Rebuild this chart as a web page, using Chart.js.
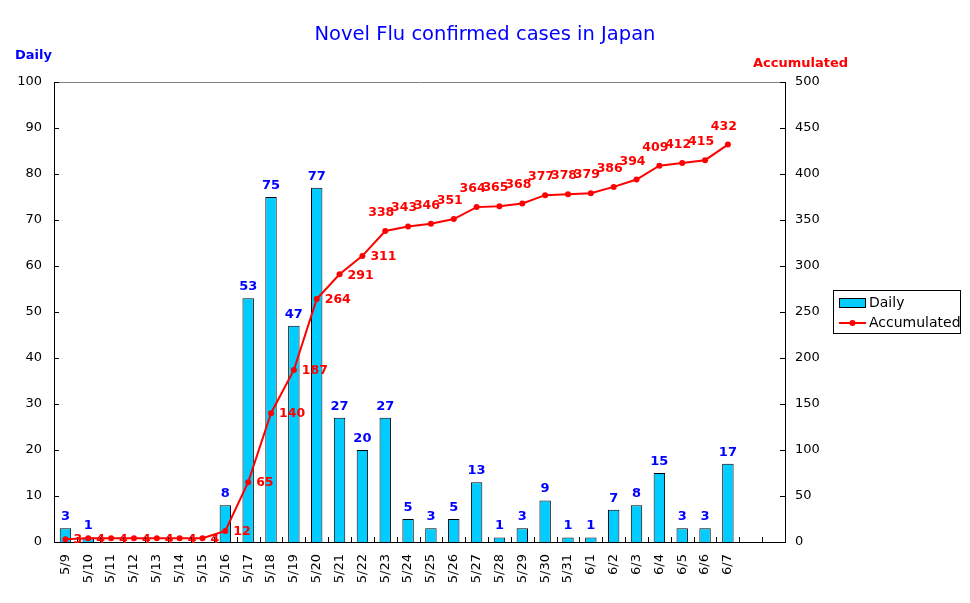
<!DOCTYPE html>
<html>
<head>
<meta charset="utf-8">
<script src="https://cdn.jsdelivr.net/npm/chart.js@4.4.1/dist/chart.umd.min.js"></script>
<style>
html,body{margin:0;padding:0;background:#fff;}
#wrap{width:970px;height:603px;position:relative;}
</style>
</head>
<body>
<div id="wrap"><canvas id="c" width="970" height="603"></canvas></div>
<script>
const categories = ['5/9','5/10','5/11','5/12','5/13','5/14','5/15','5/16','5/17','5/18','5/19','5/20','5/21','5/22','5/23','5/24','5/25','5/26','5/27','5/28','5/29','5/30','5/31','6/1','6/2','6/3','6/4','6/5','6/6','6/7','',''];
const dailyValues = [3,1,0,0,0,0,0,8,53,75,47,77,27,20,27,5,3,5,13,1,3,9,1,1,7,8,15,3,3,17];
const accumulatedValues = [3,4,4,4,4,4,4,12,65,140,187,264,291,311,338,343,346,351,364,365,368,377,378,379,386,394,409,412,415,432];
const leftTicks = [0,10,20,30,40,50,60,70,80,90,100];
const rightTicks = [0,50,100,150,200,250,300,350,400,450,500];
const rightLabelUntil = 13; // accumulated labels drawn right of point up to this index

const FONT = '"DejaVu Sans", sans-serif';

const decorPlugin = {
  id: 'decor',
  afterDatasetsDraw(chart) {
    const ctx = chart.ctx;
    const a = chart.chartArea;
    const x = chart.scales.x, yL = chart.scales.y, yR = chart.scales.y1;
    ctx.save();
    // top border grey
    ctx.strokeStyle = '#808080';
    ctx.lineWidth = 1;
    ctx.beginPath(); ctx.moveTo(a.left, a.top + 0.5); ctx.lineTo(a.right, a.top + 0.5); ctx.stroke();
    // inward ticks
    ctx.strokeStyle = '#000';
    ctx.beginPath();
    leftTicks.forEach(v => { const py = Math.round(yL.getPixelForValue(v)) + 0.5; ctx.moveTo(a.left, py); ctx.lineTo(a.left + 5, py); });
    rightTicks.forEach(v => { const py = Math.round(yR.getPixelForValue(v)) + 0.5; ctx.moveTo(a.right - 5, py); ctx.lineTo(a.right, py); });
    const n = categories.length;
    const slot = (a.right - a.left) / n;
    for (let i = 0; i <= n; i++) { const px = Math.round(a.left + i * slot) + 0.5; ctx.moveTo(px, a.bottom); ctx.lineTo(px, a.bottom - 5); }
    ctx.stroke();

    // daily labels
    ctx.font = 'bold 13px ' + FONT;
    ctx.fillStyle = '#0000FF';
    ctx.textAlign = 'center';
    ctx.textBaseline = 'bottom';
    const barMeta = chart.getDatasetMeta(0);
    barMeta.data.forEach((el, i) => {
      const v = dailyValues[i];
      if (v === undefined || v === 0) return;
      ctx.fillText(String(v), el.x, el.y - 5);
    });
    // accumulated labels
    ctx.font = 'bold 12.5px ' + FONT;
    ctx.fillStyle = '#FF0000';
    const lineMeta = chart.getDatasetMeta(1);
    lineMeta.data.forEach((el, i) => {
      const v = accumulatedValues[i];
      if (v === undefined) return;
      if (i <= rightLabelUntil) {
        ctx.textAlign = 'left'; ctx.textBaseline = 'middle';
        ctx.fillText(String(v), el.x + 8, el.y + 1);
      } else {
        ctx.textAlign = 'center'; ctx.textBaseline = 'bottom';
        ctx.fillText(String(v), el.x - 4, el.y - 12);
      }
    });

    // titles
    ctx.textBaseline = 'middle';
    ctx.textAlign = 'center';
    ctx.fillStyle = '#0000FF';
    ctx.font = '19.5px ' + FONT;
    ctx.fillText('Novel Flu confirmed cases in Japan', 485, 35);
    ctx.font = 'bold 13px ' + FONT;
    ctx.textAlign = 'left';
    ctx.fillText('Daily', 15, 56);
    ctx.fillStyle = '#FF0000';
    ctx.fillText('Accumulated', 753, 64);

    // legend
    ctx.strokeStyle = '#000';
    ctx.lineWidth = 1;
    ctx.strokeRect(833.5, 290.5, 127, 43);
    ctx.fillStyle = '#00CCFF';
    ctx.fillRect(839, 298, 26, 9);
    ctx.strokeRect(839.5, 298.5, 26, 9);
    ctx.strokeStyle = '#FF0000';
    ctx.lineWidth = 2;
    ctx.beginPath(); ctx.moveTo(839, 323); ctx.lineTo(866, 323); ctx.stroke();
    ctx.fillStyle = '#FF0000';
    ctx.beginPath(); ctx.arc(852.5, 323, 3, 0, Math.PI * 2); ctx.fill();
    ctx.fillStyle = '#000';
    ctx.font = '14px ' + FONT;
    ctx.textBaseline = 'middle';
    ctx.fillText('Daily', 869, 303);
    ctx.fillText('Accumulated', 869, 323);
    ctx.restore();
  }
};

new Chart(document.getElementById('c'), {
  type: 'bar',
  data: {
    labels: categories,
    datasets: [
      {
        type: 'bar', label: 'Daily', data: dailyValues, yAxisID: 'y', order: 2,
        backgroundColor: '#00CCFF', borderColor: '#000', borderWidth: 1,
        barPercentage: 0.5, categoryPercentage: 1.0
      },
      {
        type: 'line', label: 'Accumulated', data: accumulatedValues, yAxisID: 'y1', order: 1,
        borderColor: '#FF0000', backgroundColor: '#FF0000', borderWidth: 2,
        pointRadius: 3, pointHoverRadius: 3, tension: 0, pointBorderWidth: 0
      }
    ]
  },
  options: {
    responsive: false,
    animation: false,
    layout: { padding: { top: 82, left: 0, right: 0, bottom: 0 } },
    plugins: { legend: { display: false }, title: { display: false }, tooltip: { enabled: false } },
    scales: {
      x: {
        offset: true,
        grid: { display: false, drawTicks: false, offset: true },
        border: { display: true, color: '#000', width: 1 },
        ticks: { color: '#000', font: { family: FONT, size: 13 }, minRotation: 90, maxRotation: 90, padding: 12, autoSkip: false },
        afterFit(s) { s.height = 61; }
      },
      y: {
        position: 'left', min: 0, max: 100,
        afterBuildTicks(s) { s.ticks = leftTicks.map(v => ({ value: v })); },
        grid: { display: false, drawTicks: false },
        border: { display: true, color: '#000', width: 1 },
        ticks: { color: '#000', font: { family: FONT, size: 13 }, padding: 12 },
        afterFit(s) { s.width = 54; }
      },
      y1: {
        position: 'right', min: 0, max: 500,
        afterBuildTicks(s) { s.ticks = rightTicks.map(v => ({ value: v })); },
        grid: { display: false, drawTicks: false },
        border: { display: true, color: '#000', width: 1 },
        ticks: { color: '#000', font: { family: FONT, size: 13 }, padding: 10 },
        afterFit(s) { s.width = 185; }
      }
    }
  },
  plugins: [decorPlugin]
});
</script>
</body>
</html>
